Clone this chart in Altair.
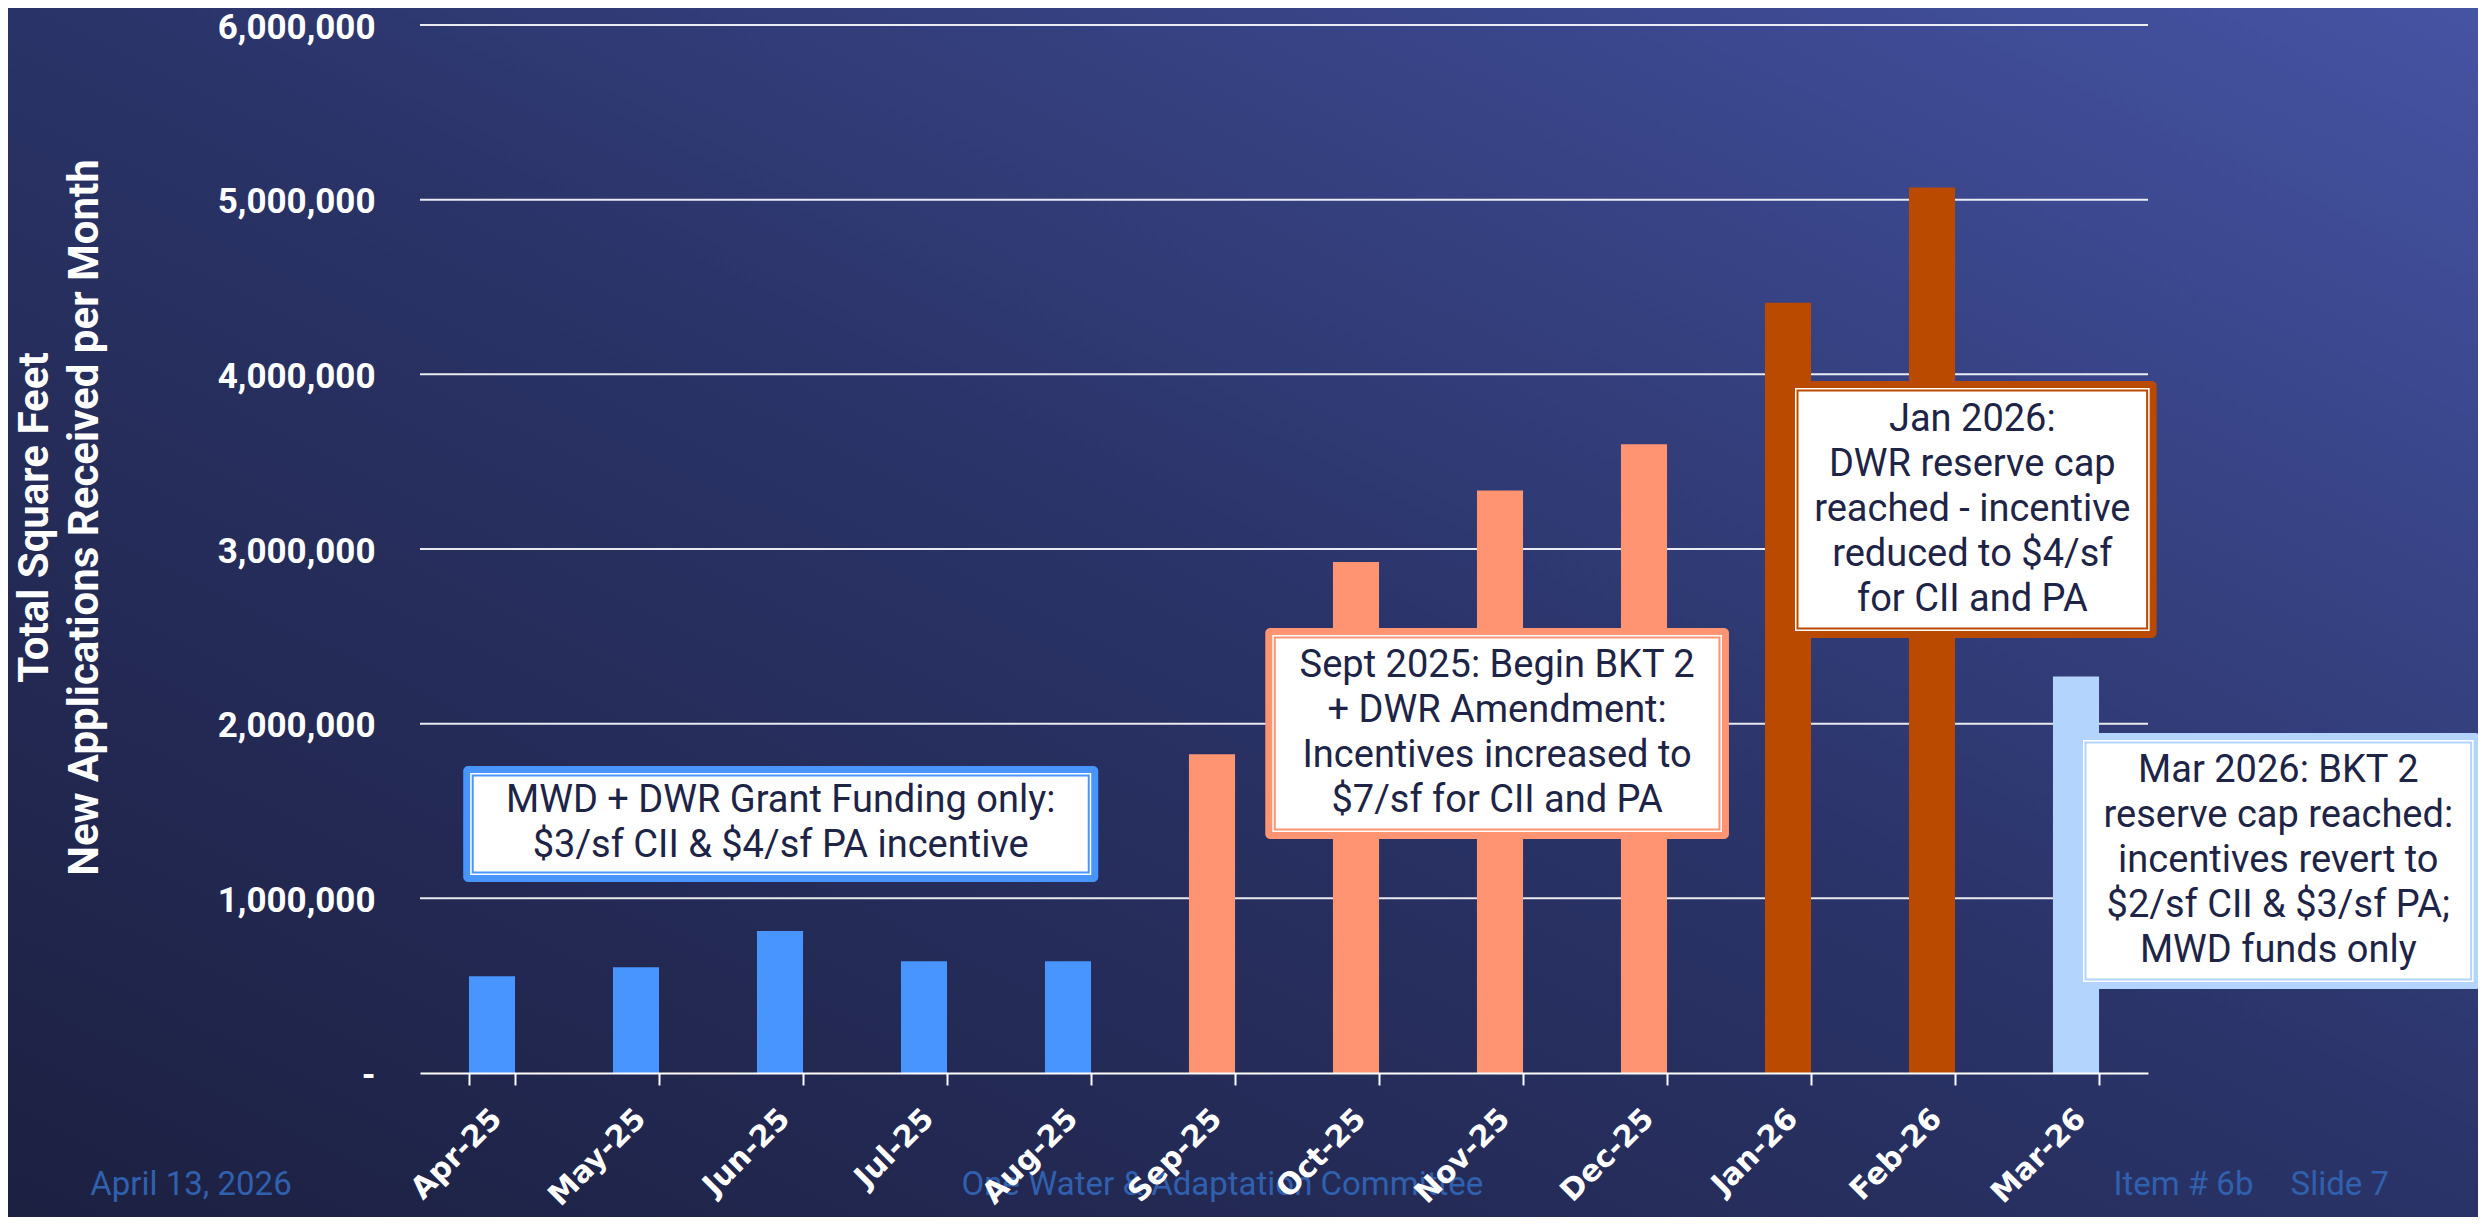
import altair as alt
import pandas as pd

# ---------------- data ----------------
months = ["Apr-25", "May-25", "Jun-25", "Jul-25", "Aug-25", "Sep-25",
          "Oct-25", "Nov-25", "Dec-25", "Jan-26", "Feb-26", "Mar-26"]
square_feet = [554000, 606000, 813000, 640000, 640000, 1825000,
               2925000, 3335000, 3600000, 4410000, 5070000, 2270000]
phase = ["grant"] * 5 + ["bkt2"] * 4 + ["cap"] * 2 + ["revert"]

phase_names = ["grant", "bkt2", "cap", "revert"]
phase_colors = ["#4895ff", "#ff9473", "#b94a00", "#b3d4fc"]

y_ticks = [0, 1000000, 2000000, 3000000, 4000000, 5000000, 6000000]
grid_values = [1000000, 2000000, 3000000, 4000000, 5000000, 6000000]

# annotation boxes (x in month-slot units, y in square feet)
box_phase = ["grant", "bkt2", "cap", "revert"]
box_x0 = [0.30, 5.87, 9.50, 11.50]
box_x1 = [4.71, 9.09, 12.06, 14.31]
box_ytop = [1758000, 2547000, 3962000, 1946000]
box_ybot = [1094000, 1339000, 2490000, 481000]
box_text = [
    ["MWD + DWR Grant Funding only:", "$3/sf CII & $4/sf PA incentive"],
    ["Sept 2025: Begin BKT 2", "+ DWR Amendment:", "Incentives increased to", "$7/sf for CII and PA"],
    ["Jan 2026:", "DWR reserve cap", "reached - incentive", "reduced to $4/sf", "for CII and PA"],
    ["Mar 2026: BKT 2", "reserve cap reached:", "incentives revert to", "$2/sf CII & $3/sf PA;", "MWD funds only"],
]

footer_text = ["April 13, 2026", "One Water & Adaptation Committee", "Item # 6b", "Slide 7"]
footer_x = [-2.29, 3.76, 11.76, 12.99]
footer_y = [-700000, -700000, -700000, -700000]

# ---------------- layout ----------------
W, H = 1728, 1048
PAD_L, PAD_T, PAD_R, PAD_B = 412, 17, 330, 144
Y_MAX = 6000000
LINE_H = 45
line_h_data = LINE_H * Y_MAX / H

df = pd.DataFrame({"month": months, "sqft": square_feet, "phase": phase})
box_df = pd.DataFrame({
    "phase": box_phase, "x0": box_x0, "x1": box_x1,
    "ytop": box_ytop, "ybot": box_ybot,
    "xc": [(a + b) / 2 for a, b in zip(box_x0, box_x1)],
    "yc": [(a + b) / 2 + (len(t) - 1) / 2 * line_h_data
           for a, b, t in zip(box_ytop, box_ybot, box_text)],
    "text": box_text,
})
foot_df = pd.DataFrame({"ft": footer_text, "fx": footer_x, "fy": footer_y})

yscale = alt.Scale(domain=[0, Y_MAX], nice=False, zero=True)
color_scale = alt.Scale(domain=phase_names, range=phase_colors)

yax = alt.Axis(values=y_ticks,
               labelExpr="datum.value == 0 ? '-' : format(datum.value, ',')",
               labelFont="Roboto", labelFontWeight="bold", labelFontSize=35,
               labelColor="white", labelPadding=45, labelOffset=2,
               ticks=False, domain=False, grid=False, zindex=1,
               title=["Total Square Feet", "New Applications Received per Month"],
               titleFont="Roboto", titleFontWeight="bold",
               titleFontSize=42, titleColor="white", titleAngle=270,
               titleX=-373, titleY=492, titleAlign="center",
               titleBaseline="alphabetic", titleLineHeight=50)


def yq(field):
    return alt.Y(f"{field}:Q", scale=yscale, axis=yax)


def xq(field):
    return alt.X(f"{field}:Q", scale=alt.Scale(domain=[0, 12], nice=False, zero=False), axis=None)


bg = alt.Chart(pd.DataFrame({"k": [0]})).mark_rect(
    color=alt.LinearGradient(
        gradient="linear",
        stops=[alt.GradientStop(color="#1c2041", offset=0),
               alt.GradientStop(color="#2a3367", offset=0.5),
               alt.GradientStop(color="#4553a3", offset=1)],
        x1=0, y1=1, x2=1, y2=0,
    )
).encode(
    x=alt.value(-PAD_L), x2=alt.value(W + PAD_R),
    y=alt.value(-PAD_T), y2=alt.value(H + PAD_B),
)

grid = alt.Chart(pd.DataFrame({"v": grid_values})).mark_rule(
    color="#ffffff", strokeWidth=2, opacity=0.9
).encode(y=yq("v"))

bars = alt.Chart(df).mark_bar().encode(
    x=alt.X("month:N", sort=months,
            scale=alt.Scale(paddingInner=0.68, paddingOuter=0.34),
            axis=alt.Axis(title=None, labelAngle=315, labelAlign="right", labelBaseline="top",
                          labelFont="DejaVu Sans", labelFontWeight="bold", labelFontSize=30,
                          labelColor="white", labelPadding=18, labelOffset=-6,
                          tickSize=12, tickColor="white", tickWidth=2,
                          domainColor="white", domainWidth=2, tickBand="extent",
                          grid=False, zindex=1)),
    y=yq("sqft"),
    color=alt.Color("phase:N", scale=color_scale, legend=None),
)

outer = alt.Chart(box_df).mark_rect(cornerRadius=5).encode(
    x=xq("x0"), x2="x1", y=yq("ytop"), y2="ybot",
    color=alt.Color("phase:N", scale=color_scale, legend=None),
)
inner = alt.Chart(box_df).mark_rect(color="white", xOffset=7, x2Offset=-7, yOffset=7, y2Offset=-7).encode(
    x=xq("x0"), x2="x1", y=yq("ytop"), y2="ybot",
)
thin = alt.Chart(box_df).mark_rect(fillOpacity=0, strokeWidth=2,
                                   xOffset=9.5, x2Offset=-9.5, yOffset=9.5, y2Offset=-9.5).encode(
    x=xq("x0"), x2="x1", y=yq("ytop"), y2="ybot",
    stroke=alt.Stroke("phase:N", scale=color_scale, legend=None),
)
box_txt = alt.Chart(box_df).mark_text(
    font="Roboto", fontSize=38, lineHeight=LINE_H, color="#1e2446", align="center", baseline="middle"
).encode(
    x=xq("xc"), y=yq("yc"), text="text:N",
)

footer = alt.Chart(foot_df).mark_text(
    font="Roboto", fontSize=33, color="#3060ae", align="left", baseline="alphabetic"
).encode(
    x=xq("fx"), y=yq("fy"), text="ft:N",
)

chart = alt.layer(bg, grid, bars, outer, inner, thin, box_txt, footer).resolve_scale(
    x="independent"
).properties(
    width=W, height=H,
    padding={"left": PAD_L, "top": PAD_T, "right": PAD_R, "bottom": PAD_B},
    autosize=alt.AutoSizeParams(type="none"),
).configure(background="#1d2143").configure_view(stroke=None)

chart.save("out.html", embed_options={"renderer": "svg", "actions": False})
